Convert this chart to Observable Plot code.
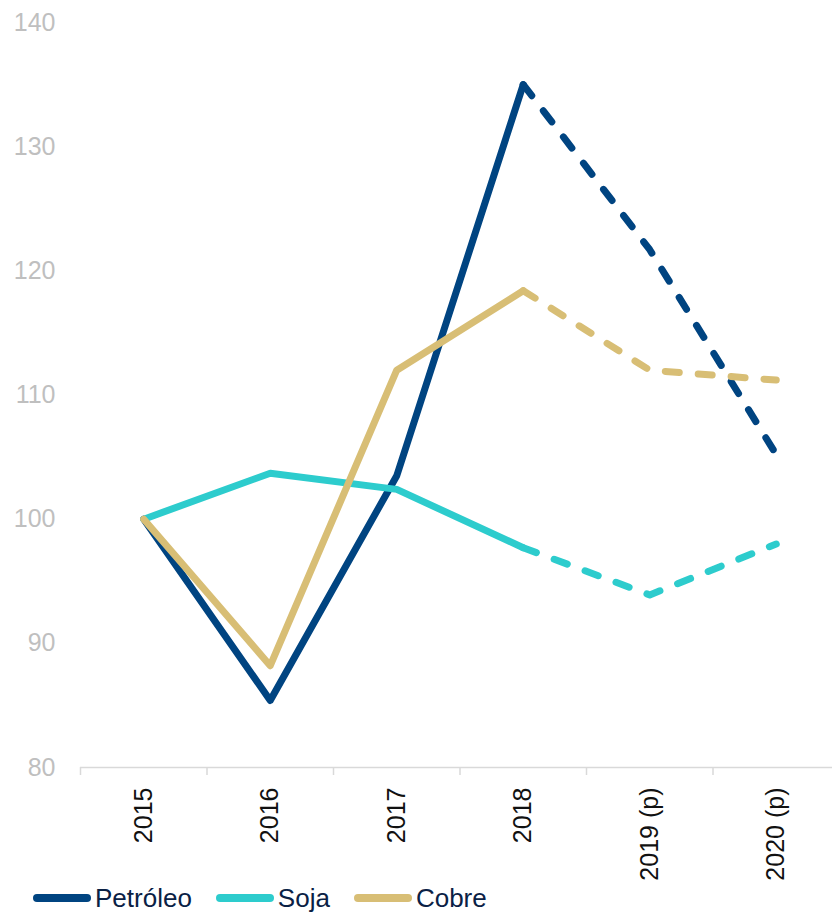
<!DOCTYPE html>
<html><head><meta charset="utf-8">
<script src="https://cdn.jsdelivr.net/npm/d3@7"></script>
<script src="https://cdn.jsdelivr.net/npm/@observablehq/plot@0.6"></script>
<style>
body{margin:0;background:#fff;font-family:"Liberation Sans",Arial,sans-serif;}
#legend{display:flex;align-items:center;height:30px;margin-top:3px;padding-left:31px;font-size:26px;line-height:30px;color:#0a2145;}
.item{display:flex;align-items:center;margin-right:22px}
.item svg{margin-right:2px}
</style></head><body><div id="chart"></div><div id="legend"></div>
<script>
const years = ["2015", "2016", "2017", "2018", "2019 (p)", "2020 (p)"];
const yTicks = [80, 90, 100, 110, 120, 130, 140];
const seriesNames = ["Petróleo", "Soja", "Cobre"];
const seriesColors = ["#004481", "#2dcccd", "#d8be75"];
const petroleo = [100, 85.4, 103.5, 135.0, 121.7, 105.2];
const soja = [100, 103.7, 102.4, 97.7, 93.9, 98.0];
const cobre = [100, 88.2, 112.0, 118.4, 112.0, 111.2];
const lastActual = "2018";

const values = [petroleo, soja, cobre];
const rows = [];
seriesNames.forEach((s, k) => years.forEach((y, i) => rows.push({serie: s, year: y, i, value: values[k][i]})));
const cut = years.indexOf(lastActual);
const solid = rows.filter(d => d.i <= cut);
const dashed = rows.filter(d => d.i >= cut);

const font = "Liberation Sans, Arial, sans-serif";
const chart = Plot.plot({
  width: 832,
  height: 880,
  marginTop: 22,
  marginBottom: 113,
  marginLeft: 80,
  marginRight: 0,
  style: {fontFamily: font, background: "#fff", overflow: "visible"},
  x: {domain: [0, years.length], range: [80, 839]},
  y: {domain: [80, 140]},
  color: {domain: seriesNames, range: seriesColors},
  marks: [
    Plot.ruleY([80], {stroke: "#d9d9d9", strokeWidth: 1.5}),
    Plot.axisX({ticks: d3.range(years.length + 1), tickFormat: () => "", tickSize: 8, stroke: "#d9d9d9", strokeWidth: 1.5, label: null}),
    Plot.axisX({ticks: years.map((y, i) => i + 0.5), tickFormat: v => years[Math.round(v - 0.5)], tickSize: 0, tickPadding: 20, tickRotate: -90, fontSize: 25, fill: "#111", label: null}),
    Plot.axisY({ticks: yTicks, tickSize: 0, tickPadding: 25, fontSize: 25, fill: "#bfbfbf", label: null}),
    Plot.line(solid, {x: d => d.i + 0.5, y: "value", z: "serie", stroke: "serie", strokeWidth: 7, strokeLinecap: "round", strokeLinejoin: "round"}),
    Plot.line(dashed, {x: d => d.i + 0.5, y: "value", z: "serie", stroke: "serie", strokeWidth: 7, strokeLinecap: "round", strokeLinejoin: "round", strokeDasharray: "14,19"})
  ]
});
document.getElementById("chart").appendChild(chart);

const legend = document.getElementById("legend");
seriesNames.forEach((s, k) => {
  const item = document.createElement("div");
  item.className = "item";
  item.innerHTML = `<svg width="62" height="12"><line x1="6" y1="6" x2="56" y2="6" stroke="${seriesColors[k]}" stroke-width="8" stroke-linecap="round"/></svg><span>${s}</span>`;
  legend.appendChild(item);
});
</script></body></html>
